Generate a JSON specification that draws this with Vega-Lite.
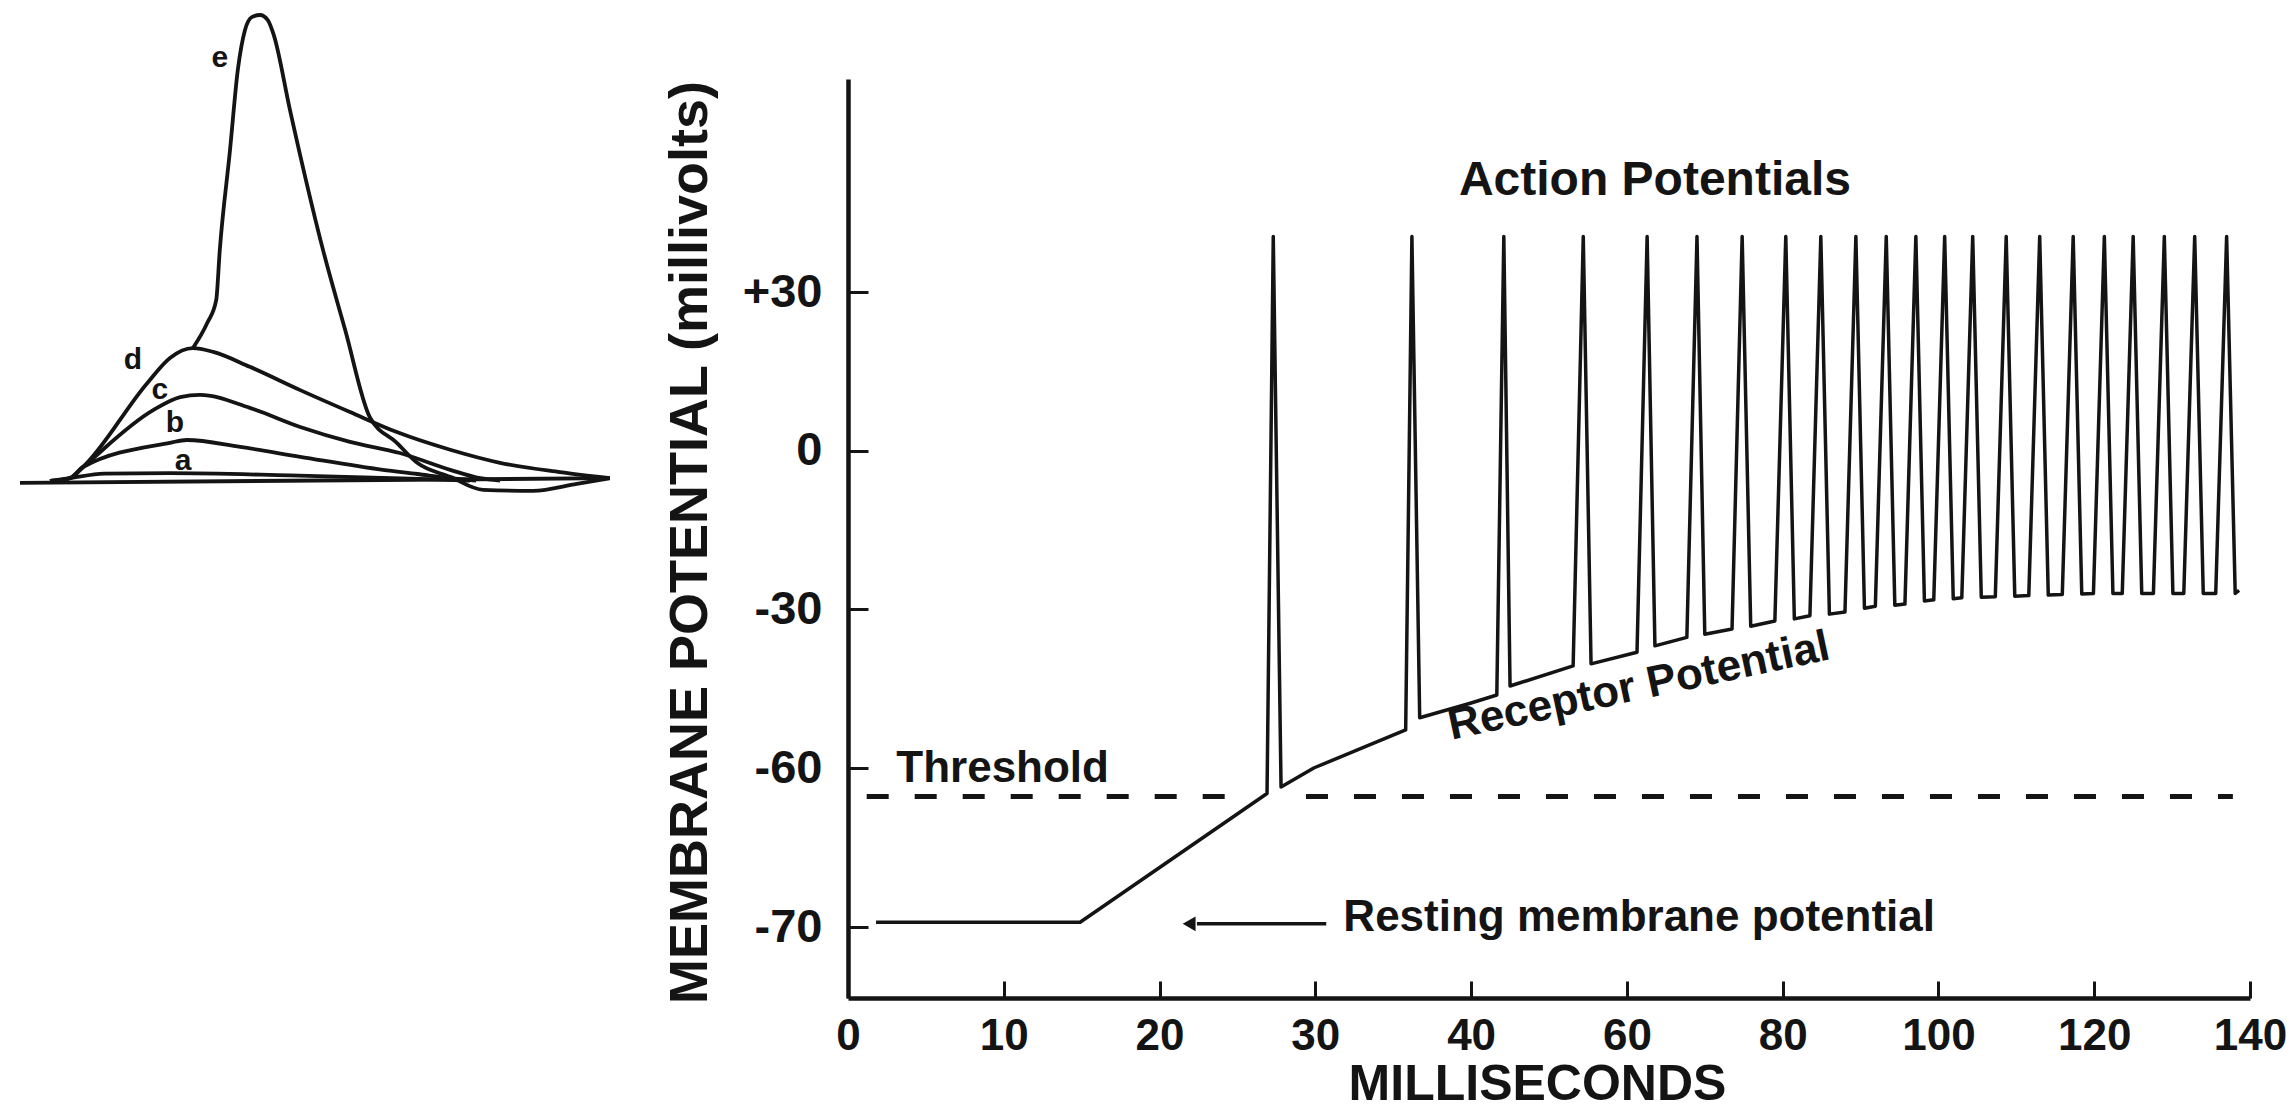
{
  "$schema": "https://vega.github.io/schema/vega-lite/v6.json",
  "autosize": {"type": "none"},
  "width": 1402,
  "height": 919,
  "padding": {"left": 848, "top": 79, "right": 46, "bottom": 113},
  "background": "white",
  "config": {"view": {"stroke": null}},
  "datasets": {
    "trace": [
      {"t": 1.8, "v": -69.7}, {"t": 14.9, "v": -69.7}, {"t": 26.9, "v": -61.6},
      {"t": 27.3, "v": 40.5}, {"t": 27.8, "v": -61.2}, {"t": 29.9, "v": -60.0}, {"t": 35.8, "v": -52.8},
      {"t": 36.2, "v": 40.5}, {"t": 36.7, "v": -50.5}, {"t": 40.0, "v": -47.7}, {"t": 43.3, "v": -46.2},
      {"t": 44.2, "v": 40.5}, {"t": 45.0, "v": -44.5}, {"t": 53.1, "v": -40.7},
      {"t": 54.4, "v": 40.5}, {"t": 55.4, "v": -40.3}, {"t": 61.3, "v": -38.1},
      {"t": 62.6, "v": 40.5}, {"t": 63.6, "v": -36.9}, {"t": 67.7, "v": -35.3},
      {"t": 69.0, "v": 40.5}, {"t": 70.0, "v": -34.7}, {"t": 73.5, "v": -33.7},
      {"t": 74.8, "v": 40.5}, {"t": 75.9, "v": -33.2}, {"t": 79.0, "v": -32.2},
      {"t": 80.4, "v": 40.5}, {"t": 81.5, "v": -31.8}, {"t": 83.5, "v": -31.2},
      {"t": 84.9, "v": 40.5}, {"t": 86.0, "v": -30.9}, {"t": 88.0, "v": -30.5},
      {"t": 89.4, "v": 40.5}, {"t": 90.5, "v": -29.8}, {"t": 91.9, "v": -29.4},
      {"t": 93.3, "v": 40.5}, {"t": 94.4, "v": -29.2}, {"t": 95.7, "v": -29.0},
      {"t": 97.1, "v": 40.5}, {"t": 98.2, "v": -28.4}, {"t": 99.4, "v": -28.2},
      {"t": 100.8, "v": 40.5}, {"t": 101.9, "v": -28.0}, {"t": 103.0, "v": -27.8},
      {"t": 104.4, "v": 40.5}, {"t": 105.5, "v": -27.7}, {"t": 107.3, "v": -27.6},
      {"t": 108.7, "v": 40.5}, {"t": 109.8, "v": -27.5}, {"t": 111.6, "v": -27.4},
      {"t": 113.0, "v": 40.5}, {"t": 114.1, "v": -27.3}, {"t": 115.9, "v": -27.2},
      {"t": 117.3, "v": 40.5}, {"t": 118.4, "v": -27.1}, {"t": 119.9, "v": -27.0},
      {"t": 121.3, "v": 40.5}, {"t": 122.4, "v": -27.0}, {"t": 123.6, "v": -27.0},
      {"t": 125.0, "v": 40.5}, {"t": 126.1, "v": -27.0}, {"t": 127.6, "v": -27.0},
      {"t": 129.0, "v": 40.5}, {"t": 130.1, "v": -27.0}, {"t": 131.5, "v": -27.0},
      {"t": 132.9, "v": 40.5}, {"t": 134.0, "v": -27.0}, {"t": 135.6, "v": -27.0},
      {"t": 137.0, "v": 40.5}, {"t": 138.1, "v": -27.0}, {"t": 138.6, "v": -26.4}
    ],
    "threshold": [
      {"t": 1.2, "t2": 25.4, "v": -61.8},
      {"t": 29.4, "t2": 137.8, "v": -61.8}
    ],
    "arrow": [{"t": 22.4, "t2": 30.7, "v": -69.8}],
    "arrowHead": [{"t": 21.9, "v": -69.8}],
    "actionLabel": [{"t": 63.6, "v": 48.3, "text": "Action  Potentials"}],
    "receptorLabel": [{"t": 61.9, "v": -47.0, "text": "Receptor Potential"}],
    "thresholdLabel": [{"t": 3.1, "v": -60.9, "text": "Threshold"}],
    "restingLabel": [{"t": 31.8, "v": -70.25, "text": "Resting membrane potential"}],
    "inset": [
      {"s": "base", "t": 0, "a": -0.4}, {"s": "base", "t": 98.3, "a": 0.6},
      {"s": "a", "t": 5.0, "a": 0}, {"s": "a", "t": 8.3, "a": 0.6}, {"s": "a", "t": 14, "a": 1.6}, {"s": "a", "t": 25, "a": 1.7}, {"s": "a", "t": 45, "a": 1.2}, {"s": "a", "t": 65, "a": 0.5}, {"s": "a", "t": 75, "a": 0.1},
      {"s": "b", "t": 5.0, "a": 0}, {"s": "b", "t": 8.3, "a": 0.6}, {"s": "b", "t": 10.5, "a": 3.0}, {"s": "b", "t": 25.0, "a": 8.2}, {"s": "b", "t": 27.8, "a": 8.8}, {"s": "b", "t": 36.7, "a": 7.3}, {"s": "b", "t": 46.7, "a": 5.2}, {"s": "b", "t": 60.5, "a": 2.4}, {"s": "b", "t": 66.2, "a": 1.5}, {"s": "b", "t": 71.7, "a": 0.6}, {"s": "b", "t": 76, "a": 0.1},
      {"s": "c", "t": 5.0, "a": 0}, {"s": "c", "t": 8.3, "a": 0.6}, {"s": "c", "t": 10.5, "a": 3.0}, {"s": "c", "t": 22.2, "a": 15.2}, {"s": "c", "t": 26.7, "a": 18.0}, {"s": "c", "t": 30.0, "a": 18.5}, {"s": "c", "t": 38.3, "a": 15.7}, {"s": "c", "t": 46.7, "a": 11.6}, {"s": "c", "t": 55.0, "a": 8.4}, {"s": "c", "t": 63.3, "a": 6.0}, {"s": "c", "t": 71.7, "a": 2.4}, {"s": "c", "t": 76.7, "a": 0.6}, {"s": "c", "t": 80, "a": 0.1},
      {"s": "d", "t": 5.0, "a": 0}, {"s": "d", "t": 8.3, "a": 0.6}, {"s": "d", "t": 10.5, "a": 3.0}, {"s": "d", "t": 21.2, "a": 21.0}, {"s": "d", "t": 25.0, "a": 26.4}, {"s": "d", "t": 28.8, "a": 28.5}, {"s": "d", "t": 32.2, "a": 27.7}, {"s": "d", "t": 38.3, "a": 24.5}, {"s": "d", "t": 46.7, "a": 19.5}, {"s": "d", "t": 55.0, "a": 14.8}, {"s": "d", "t": 62.8, "a": 10.5}, {"s": "d", "t": 71.7, "a": 6.7}, {"s": "d", "t": 80.0, "a": 3.9}, {"s": "d", "t": 90.0, "a": 1.9}, {"s": "d", "t": 98.3, "a": 0.6},
      {"s": "e", "t": 28.8, "a": 28.5}, {"s": "e", "t": 31.2, "a": 33.9}, {"s": "e", "t": 32.7, "a": 38.8}, {"s": "e", "t": 33.3, "a": 49.6}, {"s": "e", "t": 35.0, "a": 71.0}, {"s": "e", "t": 36.3, "a": 88.2}, {"s": "e", "t": 37.5, "a": 96.8}, {"s": "e", "t": 38.7, "a": 99.6}, {"s": "e", "t": 40.0, "a": 100}, {"s": "e", "t": 41.3, "a": 98.9}, {"s": "e", "t": 42.3, "a": 95.7}, {"s": "e", "t": 45.0, "a": 79.6}, {"s": "e", "t": 50.5, "a": 49.6}, {"s": "e", "t": 54.2, "a": 32.4}, {"s": "e", "t": 58.3, "a": 13.7}, {"s": "e", "t": 62.8, "a": 8.2}, {"s": "e", "t": 66.2, "a": 3.9}, {"s": "e", "t": 71.7, "a": 0.9}, {"s": "e", "t": 77.2, "a": -1.9}, {"s": "e", "t": 85.5, "a": -2.1}, {"s": "e", "t": 92.8, "a": -0.6}, {"s": "e", "t": 98.3, "a": 0.6}
    ],
    "insetLabels": [
      {"t": 33.3, "a": 90.8, "text": "e"},
      {"t": 18.8, "a": 26.0, "text": "d"},
      {"t": 23.3, "a": 19.5, "text": "c"},
      {"t": 25.8, "a": 12.4, "text": "b"},
      {"t": 27.2, "a": 4.2, "text": "a"}
    ]
  },
  "layer": [
    {
      "layer": [
        {
          "data": {"name": "trace"},
          "mark": {"type": "line", "color": "#141414", "strokeWidth": 3.5, "strokeJoin": "round"},
          "encoding": {
            "x": {
              "field": "t", "type": "quantitative",
              "scale": {"domain": [0, 40, 140], "range": [0, 623.1, 1402], "nice": false, "zero": false},
              "axis": {
                "values": [0, 10, 20, 30, 40, 60, 80, 100, 120, 140],
                "format": "d",
                "title": "MILLISECONDS",
                "grid": false,
                "domainColor": "#141414", "domainWidth": 4.5,
                "tickColor": "#141414", "tickWidth": 3, "tickSize": -17,
                "labelPadding": 33, "labelFont": "Liberation Sans", "labelFontSize": 44, "labelFontWeight": "bold", "labelColor": "#141414",
                "labelFlush": false, "labelOverlap": false, "labelBaseline": "top",
                "titleFont": "Liberation Sans", "titleFontSize": 50, "titleFontWeight": "bold", "titleColor": "#141414",
                "titleX": 689, "titleY": 86, "titleAlign": "center", "titleBaseline": "middle", "titleAnchor": null
              }
            },
            "y": {
              "field": "v", "type": "quantitative",
              "scale": {"domain": [-74.5, -70, -60, 70.3], "range": [919, 848, 689, 0], "nice": false, "zero": false},
              "axis": {
                "values": [-70, -60, -30, 0, 30],
                "labelExpr": "datum.value > 0 ? '+' + datum.value : (datum.value < 0 ? '-' + abs(datum.value) : '0')",
                "title": "MEMBRANE POTENTIAL (millivolts)",
                "grid": false,
                "domainColor": "#141414", "domainWidth": 4.5,
                "tickColor": "#141414", "tickWidth": 3, "tickSize": -20,
                "labelPadding": 46, "labelFont": "Liberation Sans", "labelFontSize": 47, "labelFontWeight": "bold", "labelColor": "#141414",
                "labelFlush": false, "labelOverlap": false,
                "titleFont": "Liberation Sans", "titleFontSize": 54, "titleFontWeight": "bold", "titleColor": "#141414",
                "titleX": -158, "titleY": 463, "titleAngle": -90, "titleAlign": "center", "titleBaseline": "middle", "titleAnchor": null
              }
            }
          }
        },
        {
          "data": {"name": "threshold"},
          "mark": {"type": "rule", "color": "#141414", "strokeWidth": 5, "strokeDash": [22, 26]},
          "encoding": {
            "x": {"field": "t", "type": "quantitative"},
            "x2": {"field": "t2"},
            "y": {"field": "v", "type": "quantitative"}
          }
        },
        {
          "data": {"name": "arrow"},
          "mark": {"type": "rule", "color": "#141414", "strokeWidth": 3.5},
          "encoding": {
            "x": {"field": "t", "type": "quantitative"},
            "x2": {"field": "t2"},
            "y": {"field": "v", "type": "quantitative"}
          }
        },
        {
          "data": {"name": "arrowHead"},
          "mark": {"type": "point", "shape": "triangle-left", "filled": true, "size": 220, "color": "#141414", "opacity": 1},
          "encoding": {
            "x": {"field": "t", "type": "quantitative"},
            "y": {"field": "v", "type": "quantitative"}
          }
        },
        {
          "data": {"name": "actionLabel"},
          "mark": {"type": "text", "font": "Liberation Sans", "fontSize": 48, "fontWeight": "bold", "color": "#141414", "align": "center", "baseline": "alphabetic"},
          "encoding": {
            "x": {"field": "t", "type": "quantitative"},
            "y": {"field": "v", "type": "quantitative"},
            "text": {"field": "text"}
          }
        },
        {
          "data": {"name": "receptorLabel"},
          "mark": {"type": "text", "font": "Liberation Sans", "fontSize": 44, "fontWeight": "bold", "color": "#141414", "align": "center", "baseline": "alphabetic", "angle": -12},
          "encoding": {
            "x": {"field": "t", "type": "quantitative"},
            "y": {"field": "v", "type": "quantitative"},
            "text": {"field": "text"}
          }
        },
        {
          "data": {"name": "thresholdLabel"},
          "mark": {"type": "text", "font": "Liberation Sans", "fontSize": 44, "fontWeight": "bold", "color": "#141414", "align": "left", "baseline": "alphabetic"},
          "encoding": {
            "x": {"field": "t", "type": "quantitative"},
            "y": {"field": "v", "type": "quantitative"},
            "text": {"field": "text"}
          }
        },
        {
          "data": {"name": "restingLabel"},
          "mark": {"type": "text", "font": "Liberation Sans", "fontSize": 44, "fontWeight": "bold", "color": "#141414", "align": "left", "baseline": "alphabetic"},
          "encoding": {
            "x": {"field": "t", "type": "quantitative"},
            "y": {"field": "v", "type": "quantitative"},
            "text": {"field": "text"}
          }
        }
      ]
    },
    {
      "layer": [
        {
          "data": {"name": "inset"},
          "mark": {"type": "line", "color": "#141414", "strokeWidth": 3.8, "strokeJoin": "round", "interpolate": "monotone"},
          "encoding": {
            "x": {"field": "t", "type": "quantitative", "scale": {"domain": [0, 100], "range": [-828, -228], "nice": false, "zero": false}, "axis": null},
            "y": {"field": "a", "type": "quantitative", "scale": {"domain": [0, 100], "range": [402, -64], "nice": false, "zero": false}, "axis": null},
            "detail": {"field": "s"}
          }
        },
        {
          "data": {"name": "insetLabels"},
          "mark": {"type": "text", "font": "Liberation Sans", "fontSize": 30, "fontWeight": "bold", "color": "#141414", "align": "center", "baseline": "middle"},
          "encoding": {
            "x": {"field": "t", "type": "quantitative"},
            "y": {"field": "a", "type": "quantitative"},
            "text": {"field": "text"}
          }
        }
      ]
    }
  ],
  "resolve": {"scale": {"x": "independent", "y": "independent"}}
}
